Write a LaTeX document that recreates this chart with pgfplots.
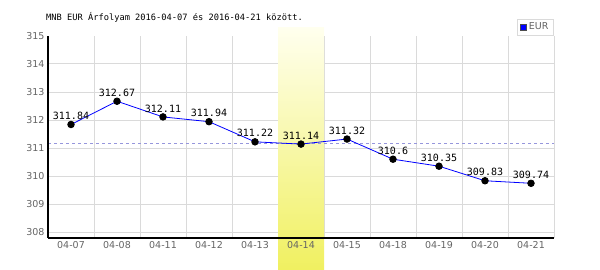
\documentclass[border=0pt]{standalone}
\usepackage{pgfplots}
\pgfplotsset{compat=1.18}
\usepackage{pgfplotstable}
\usepackage{fontspec}
\setmainfont{DejaVu Sans}
\newfontfamily\mono{DejaVu Sans Mono}
\definecolor{tickgray}{RGB}{100,100,100}
\definecolor{gridgray}{RGB}{218,218,218}
\definecolor{bandtop}{RGB}{255,255,238}
\definecolor{bandbot}{RGB}{240,240,96}
\definecolor{avgblue}{RGB}{150,150,220}
\pgfplotstableread{
x y lab
0 311.84 311.84
1 312.67 312.67
2 312.11 312.11
3 311.94 311.94
4 311.22 311.22
5 311.14 311.14
6 311.32 311.32
7 310.60 310.6
8 310.35 310.35
9 309.83 309.83
10 309.74 309.74
}\data
\begin{document}
\begin{tikzpicture}
\useasboundingbox (0pt,0pt) rectangle (600pt,270pt);
\node[anchor=base west, font=\mono\fontsize{8.7}{10}\selectfont, inner sep=0] at (46pt,249pt) {MNB EUR Árfolyam 2016-04-07 és 2016-04-21 között.};
\begin{axis}[
  at={(48pt,32pt)}, anchor=south west, scale only axis,
  width=506pt, height=202pt,
  xmin=-0.5, xmax=10.5, ymin=307.786, ymax=315,
  xtick={0,...,10},
  xticklabels={04-07,04-08,04-11,04-12,04-13,04-14,04-15,04-18,04-19,04-20,04-21},
  ytick={308,...,315},
  major tick length=0pt, minor tick length=0pt,
  axis x line*=bottom, axis y line*=left,
  axis line style={-, black, line width=1.3pt},
  axis on top,
  tick label style={tickgray, font=\fontsize{9.5}{11}\selectfont},
  /pgf/number format/assume math mode=true,
  clip=false,
  legend style={at={(1,1)}, anchor=south east, draw=gridgray, line width=1pt,
    font=\fontsize{9.5}{11}\selectfont, text=tickgray, inner xsep=3pt, inner ysep=2pt,
    legend cell align=left},
]
\pgfplotsinvokeforeach{-0.5,0.5,1.5,2.5,3.5,4.5,5.5,6.5,7.5,8.5,9.5,10.5}{
  \draw[gridgray, line width=1pt] (axis cs:#1,307.786) -- (axis cs:#1,315);
}
\pgfplotsinvokeforeach{308,309,310,311,312,313,314}{
  \draw[gridgray, line width=1pt] (axis cs:-0.5,#1) -- (axis cs:10.5,#1);
}
\fill[top color=bandtop, bottom color=bandbot] (axis cs:4.5,315.286) rectangle (axis cs:5.5,306.64);
\addplot[avgblue, line width=0.8pt, dash pattern=on 3pt off 3pt, forget plot] coordinates {(-0.5,311.16) (10.5,311.16)};
\addplot[blue, line width=0.8pt, mark=*, mark size=3.3pt,
  mark options={black, fill=black},
  nodes near coords, point meta=explicit symbolic,
  nodes near coords style={font=\mono\fontsize{10}{12}\selectfont, black, anchor=south, yshift=1pt},
  legend image code/.code={\fill[blue, draw=black!70, line width=0.6pt] (0pt,-3pt) rectangle (6pt,3pt);}
] table[x=x, y=y, meta=lab] {\data};
\addlegendentry{EUR}
\end{axis}
\end{tikzpicture}
\end{document}
